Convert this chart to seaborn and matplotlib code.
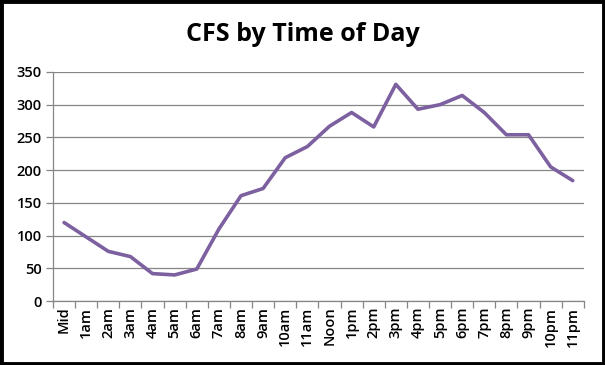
import matplotlib
matplotlib.use("Agg")
import matplotlib.pyplot as plt
import seaborn as sns
import pandas as pd
import numpy as np
from matplotlib.ticker import FixedLocator
from matplotlib.patches import Rectangle

hours = ["Mid", "1am", "2am", "3am", "4am", "5am", "6am", "7am", "8am", "9am",
         "10am", "11am", "Noon", "1pm", "2pm", "3pm", "4pm", "5pm", "6pm", "7pm",
         "8pm", "9pm", "10pm", "11pm"]
cfs = [120, 98, 76, 68, 42, 40, 49, 110, 161, 172, 219, 236, 267, 288, 266,
       331, 293, 300, 314, 288, 254, 254, 205, 184]
yticks = [0, 50, 100, 150, 200, 250, 300, 350]

sns.set_style("white")
plt.rcParams["font.family"] = ["Open Sans", "DejaVu Sans"]

df = pd.DataFrame({"pos": np.arange(len(hours)), "hour": hours, "cfs": cfs})

fig = plt.figure(figsize=(6.05, 3.65), dpi=100)
ax = fig.add_axes([0.0876, 0.175, 0.8774, 0.628])

sns.lineplot(data=df, x="pos", y="cfs", ax=ax, color="#7D60A0", linewidth=2.6,
             sort=False)

ax.set_xlim(-0.5, len(hours) - 0.5)
ax.set_ylim(0, 350)
ax.set_yticks(yticks)
ax.set_yticklabels([str(v) for v in yticks], fontsize=10.5, fontweight="semibold",
                   color="black")
ax.set_xticks(np.arange(len(hours)))
ax.set_xticklabels(hours, rotation=90, fontsize=10.5, fontweight="semibold",
                   color="black")
ax.xaxis.set_minor_locator(FixedLocator(np.arange(-0.5, len(hours), 1.0)))
ax.tick_params(axis="x", which="major", length=0, pad=4)
ax.tick_params(axis="x", which="minor", length=5, color="#868686", width=0.9,
               direction="out", bottom=True)
ax.tick_params(axis="y", which="major", length=5, color="#868686", width=0.9,
               direction="out", left=True, pad=3)
ax.grid(axis="y", color="#868686", linewidth=0.9)
ax.set_axisbelow(True)
for s in ["top", "right"]:
    ax.spines[s].set_visible(False)
for s in ["left", "bottom"]:
    ax.spines[s].set_color("#868686")
    ax.spines[s].set_linewidth(0.9)
ax.set_xlabel("")
ax.set_ylabel("")

fig.text(0.5, 0.905, "CFS by Time of Day", ha="center", va="center",
         fontsize=18, fontweight="bold", color="black")

fig.patches.append(Rectangle((0.002, 0.003), 0.996, 0.994, transform=fig.transFigure,
                             fill=False, edgecolor="black", linewidth=3.5))

fig.savefig("out.png", dpi=100)
